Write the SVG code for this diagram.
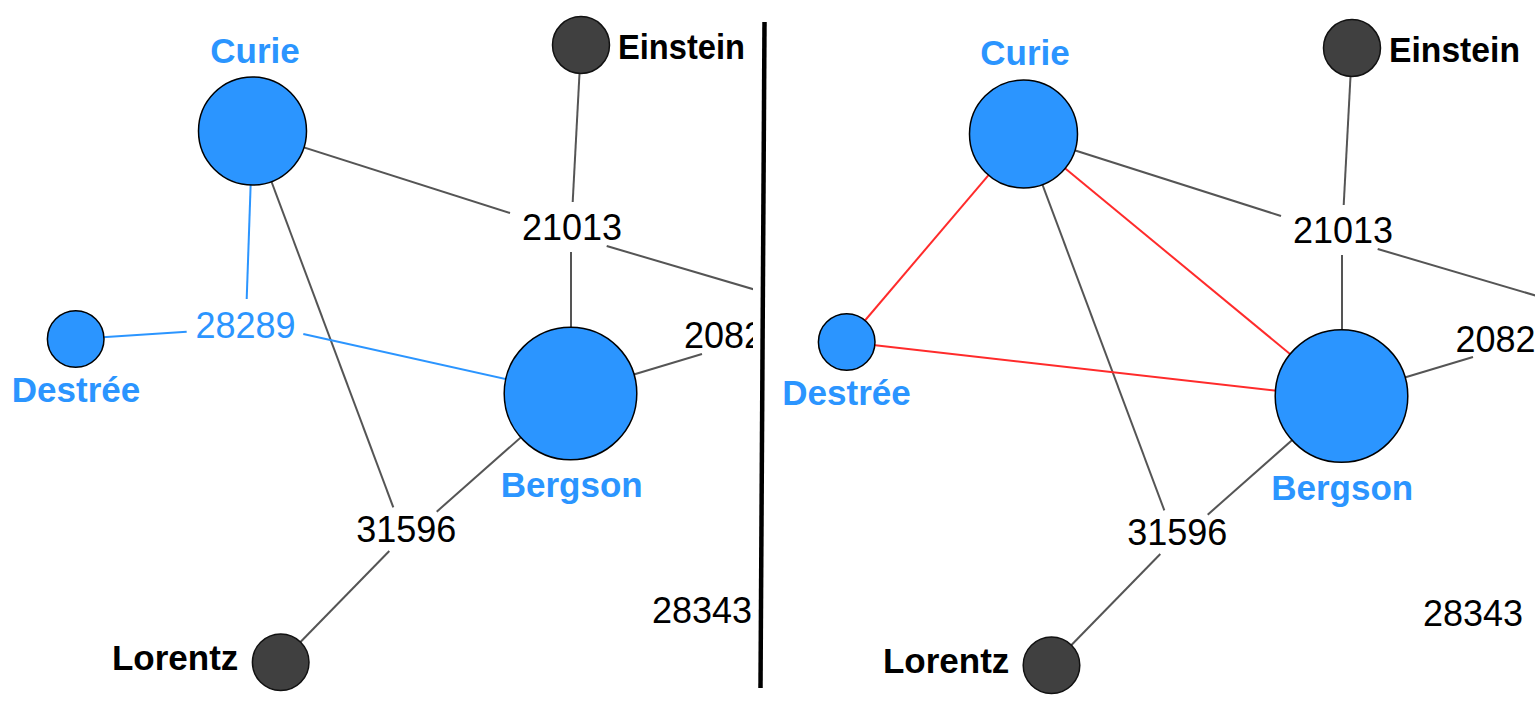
<svg xmlns="http://www.w3.org/2000/svg" width="1535" height="708" viewBox="0 0 1535 708">
  <style>
    .edge { stroke: #555555; stroke-width: 2; fill: none; }
    .edge-blue { stroke: #2b95ff; stroke-width: 2; fill: none; }
    .edge-red { stroke: #ff2b2b; stroke-width: 2; fill: none; }
    .n-blue { fill: #2b95ff; stroke: #000000; stroke-width: 1.5; }
    .n-dark { fill: #404040; stroke: #111111; stroke-width: 1.5; }
    .lbl { font-family: "Liberation Sans", Arial, sans-serif; font-weight: bold; font-size: 35px; }
    .lbl-blue { fill: #2b95ff; }
    .lbl-dark { fill: #000000; }
    .num { font-family: "Liberation Sans", Arial, sans-serif; font-size: 36px; fill: #000000; }
    .num-blue { fill: #2b95ff; }
  </style>
  <defs>
    <clipPath id="clipL"><rect x="0" y="0" width="753" height="708"/></clipPath>
  </defs>
  <rect x="0" y="0" width="1535" height="708" fill="#ffffff"/>

  <!-- LEFT PANEL -->
  <g id="left-panel" clip-path="url(#clipL)">
    <g id="left-connectors">
      <line class="edge" x1="252.5" y1="131" x2="510" y2="213"/>
      <line class="edge" x1="581" y1="45" x2="572.7" y2="202"/>
      <line class="edge" x1="571" y1="252" x2="571" y2="393.5"/>
      <line class="edge" x1="606.7" y1="246" x2="790" y2="300"/>
      <line class="edge" x1="570.5" y1="393.5" x2="702" y2="354"/>
      <line class="edge" x1="252.5" y1="131" x2="393.3" y2="507.3"/>
      <line class="edge" x1="436.7" y1="511.7" x2="570.5" y2="393.5"/>
      <line class="edge" x1="389.3" y1="551" x2="280.7" y2="662.3"/>
      <line class="edge-blue" x1="252.5" y1="131" x2="246.7" y2="299"/>
      <line class="edge-blue" x1="75.7" y1="339" x2="186.7" y2="331.7"/>
      <line class="edge-blue" x1="303.3" y1="334" x2="570.5" y2="393.5"/>
    </g>
    <g id="left-n21013"><text class="num" x="572" y="240" text-anchor="middle">21013</text></g>
    <g id="left-n28289"><text class="num num-blue" x="245.5" y="338.3" text-anchor="middle">28289</text></g>
    <g id="left-n2082"><text class="num" x="684" y="348">2082</text></g>
    <g id="left-n31596"><text class="num" x="406.3" y="541.7" text-anchor="middle">31596</text></g>
    <g id="left-n28343"><text class="num" x="702" y="623.3" text-anchor="middle">28343</text></g>
    <g id="left-curie">
      <circle class="n-blue" cx="252.5" cy="131" r="54"/>
      <text class="lbl lbl-blue" x="255" y="62.7" text-anchor="middle">Curie</text>
    </g>
    <g id="left-einstein">
      <circle class="n-dark" cx="581" cy="45" r="28.5"/>
      <text class="lbl lbl-dark" x="618" y="59.3" textLength="127" lengthAdjust="spacingAndGlyphs">Einstein</text>
    </g>
    <g id="left-destree">
      <circle class="n-blue" cx="75.7" cy="339" r="28.3"/>
      <text class="lbl lbl-blue" x="76" y="401.5" text-anchor="middle">Destrée</text>
    </g>
    <g id="left-bergson">
      <circle class="n-blue" cx="570.5" cy="393.5" r="66.3"/>
      <text class="lbl lbl-blue" x="571.7" y="496.7" text-anchor="middle">Bergson</text>
    </g>
    <g id="left-lorentz">
      <circle class="n-dark" cx="280.7" cy="662.3" r="28.3"/>
      <text class="lbl lbl-dark" x="238.3" y="670" text-anchor="end">Lorentz</text>
    </g>
  </g>

  <!-- DIVIDER -->
  <line id="divider" x1="764.5" y1="22" x2="760.5" y2="688" stroke="#000000" stroke-width="4.5"/>

  <!-- RIGHT PANEL -->
  <g id="right-panel" transform="translate(771,3)">
    <g id="right-connectors">
      <line class="edge" x1="252.5" y1="131" x2="510" y2="213"/>
      <line class="edge" x1="581" y1="45" x2="572.7" y2="202"/>
      <line class="edge" x1="571" y1="252" x2="571" y2="393.5"/>
      <line class="edge" x1="606.7" y1="246" x2="790" y2="300"/>
      <line class="edge" x1="570.5" y1="393.5" x2="702" y2="354"/>
      <line class="edge" x1="252.5" y1="131" x2="393.3" y2="507.3"/>
      <line class="edge" x1="436.7" y1="511.7" x2="570.5" y2="393.5"/>
      <line class="edge" x1="389.3" y1="551" x2="280.7" y2="662.3"/>
      <line class="edge-red" x1="252.5" y1="131" x2="75.7" y2="339"/>
      <line class="edge-red" x1="252.5" y1="131" x2="570.5" y2="393.5"/>
      <line class="edge-red" x1="75.7" y1="339" x2="570.5" y2="395"/>
    </g>
    <g id="right-n21013"><text class="num" x="572" y="240" text-anchor="middle">21013</text></g>
    <g id="right-n2082"><text class="num" x="684.5" y="348.5">2082</text></g>
    <g id="right-n31596"><text class="num" x="406.3" y="541.7" text-anchor="middle">31596</text></g>
    <g id="right-n28343"><text class="num" x="702" y="623.3" text-anchor="middle">28343</text></g>
    <g id="right-curie">
      <circle class="n-blue" cx="252.5" cy="131" r="54"/>
      <text class="lbl lbl-blue" x="254" y="62" text-anchor="middle">Curie</text>
    </g>
    <g id="right-einstein">
      <circle class="n-dark" cx="581" cy="45" r="28.5"/>
      <text class="lbl lbl-dark" x="618" y="59.3" textLength="131" lengthAdjust="spacingAndGlyphs">Einstein</text>
    </g>
    <g id="right-destree">
      <circle class="n-blue" cx="75.7" cy="339" r="28.3"/>
      <text class="lbl lbl-blue" x="75.5" y="401.5" text-anchor="middle">Destrée</text>
    </g>
    <g id="right-bergson">
      <circle class="n-blue" cx="570.5" cy="393" r="66.3"/>
      <text class="lbl lbl-blue" x="571.2" y="496.7" text-anchor="middle">Bergson</text>
    </g>
    <g id="right-lorentz">
      <circle class="n-dark" cx="280.5" cy="662.3" r="28.3"/>
      <text class="lbl lbl-dark" x="238.3" y="670" text-anchor="end">Lorentz</text>
    </g>
  </g>
</svg>
